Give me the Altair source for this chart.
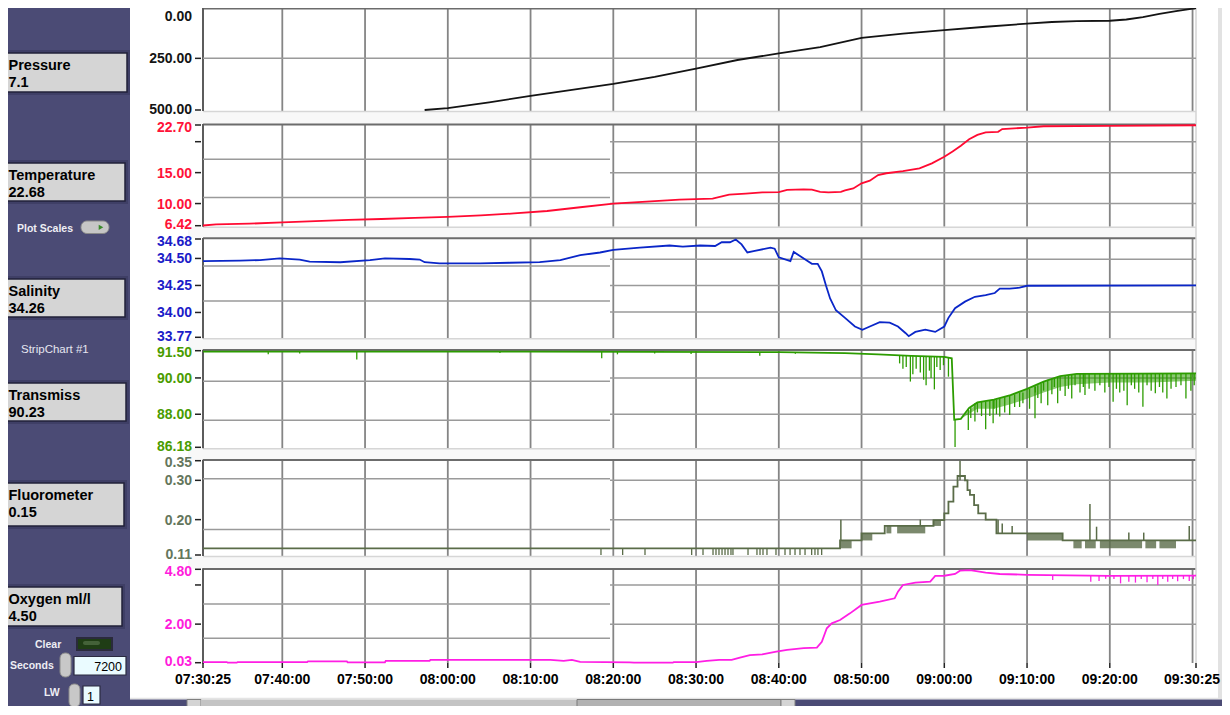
import altair as alt
import pandas as pd

# ---------------- time axis: minutes after 07:30:00 ----------------
T_START = 25 / 60
T_END = 120 + 25 / 60
grid_minutes = [10, 20, 30, 40, 50, 60, 70, 80, 90, 100, 110, 120]
xlabel_minutes = [T_START, 10, 20, 30, 40, 50, 60, 70, 80, 90, 100, 110, T_END]
xlabel_text = ["07:30:25", "07:40:00", "07:50:00", "08:00:00", "08:10:00", "08:20:00", "08:30:00",
               "08:40:00", "08:50:00", "09:00:00", "09:10:00", "09:20:00", "09:30:25"]
SPLIT = 49.6  # older strip-chart grid segment ends here

# ---------------- Pressure ----------------
press_t = [27.2, 30, 35, 40, 45, 50, 55, 60, 65, 70, 75, 80, 85, 90, 95, 100, 103, 106, 110, 112, 114, 116, 118, T_END]
press_v = [500, 491, 463, 432, 403, 374, 340, 300, 258, 226, 196, 151, 130, 113, 97, 82, 74, 70, 68, 62, 50, 35, 21, 7.1]
press_ticks = [0, 250, 500]
press_labels = ["0.00", "250.00", "500.00"]
press_gl = [250]
press_gr = [250]

# ---------------- Temperature ----------------
temp_t = [T_START, 2, 6, 10, 14, 18, 22, 26, 30, 34, 38, 42, 46, 50, 54, 58, 62, 64, 66, 68, 70, 71, 73, 74,
          75, 76, 77.5, 78, 79, 80, 81, 82, 83, 85, 87, 88.5, 90, 91, 92, 93, 94, 95, 96.5, 97, 100, 102, 110, T_END]
temp_v = [6.45, 6.62, 6.75, 6.95, 7.15, 7.35, 7.5, 7.7, 7.85, 8.1, 8.4, 8.8, 9.4, 10.0, 10.3, 10.65, 10.8, 11.45,
          11.6, 11.8, 11.85, 12.2, 12.3, 12.25, 11.9, 11.8, 11.9, 12.14, 12.45, 13.27, 13.7, 14.6, 14.9, 15.26,
          15.7, 16.5, 17.57, 18.4, 19.35, 20.4, 21.1, 21.5, 21.6, 22.05, 22.27, 22.5, 22.55, 22.66]
temp_ticks = [22.70, 20, 15, 10, 6.42]
temp_labels = ["22.70", "", "15.00", "10.00", "6.42"]
temp_gl = [17.15, 10.96]
temp_gr = [20, 15, 10]

# ---------------- Salinity ----------------
sal_t = [T_START, 4.9, 7.3, 9.7, 12.1, 13.3, 17.0, 20.6, 22.4, 25.4, 26.6, 27.2, 29.0, 33.9, 37.5, 41.1, 43.6,
         46.0, 48.4, 50.0, 53.2, 56.8, 58.4, 60.5, 62.3, 63.1, 64.1, 64.8, 65.5, 66.2, 67.1, 69.0, 69.5, 70.0,
         71.4, 71.8, 72.6, 73.2, 74.0, 74.7, 75.2, 75.7, 76.2, 76.9, 78.0, 79.2, 80.1, 81.0, 82.2, 83.4, 84.4,
         85.3, 85.7, 86.5, 87.7, 88.9, 90.0, 90.5, 91.3, 92.5, 93.7, 95.0, 96.1, 96.7, 97.9, 99.1, 100.0, T_END]
sal_v = [34.475, 34.48, 34.485, 34.50, 34.49, 34.47, 34.465, 34.485, 34.50, 34.495, 34.49, 34.465, 34.455,
         34.455, 34.46, 34.465, 34.485, 34.53, 34.555, 34.58, 34.60, 34.62, 34.61, 34.62, 34.615, 34.65, 34.65,
         34.675, 34.63, 34.555, 34.57, 34.60, 34.59, 34.51, 34.475, 34.56, 34.52, 34.49, 34.45, 34.45, 34.38,
         34.25, 34.13, 34.02, 33.95, 33.87, 33.84, 33.87, 33.91, 33.905, 33.87, 33.81, 33.78, 33.82, 33.84,
         33.82, 33.87, 33.95, 34.04, 34.10, 34.145, 34.16, 34.18, 34.22, 34.22, 34.23, 34.247, 34.25]
sal_ticks = [34.68, 34.50, 34.25, 34.00, 33.77]
sal_labels = ["34.68", "34.50", "34.25", "34.00", "33.77"]
sal_gl = [34.43, 34.106]
sal_gr = [34.492, 34.25, 34.004]

# ---------------- Transmissometer ----------------
tr_t = [T_START, 40, 70, 78, 82, 86, 90, 90.9, 91.2, 92.0, 93.0, 94.0, 96.0, 98.0, 100.0, 102.0, 104.0, 106.0, T_END]
tr_v = [91.45, 91.45, 91.42, 91.37, 91.30, 91.22, 91.16, 91.08, 87.70, 87.75, 88.35, 88.65, 88.80, 89.05, 89.40,
        89.80, 90.10, 90.22, 90.25]
trband_t = [92.0, 94.0, 96.0, 98.0, 100.0, 102.0, 104.0, 106.0, 110.0, 115.0, T_END]
trband_lo = [87.75, 88.3, 88.3, 88.55, 88.85, 89.2, 89.5, 89.65, 89.75, 89.75, 89.85]
trband_hi = [87.75, 88.65, 88.8, 89.05, 89.4, 89.8, 90.1, 90.22, 90.25, 90.25, 90.25]
trspk_t = [8.3, 12.1, 19.0, 36.3, 48.6, 50.5, 55.0, 59.4, 67.7, 72.0,
           84.6, 85.0, 85.4, 85.9, 86.2, 86.6, 87.1, 87.5, 87.8, 88.2, 88.4, 88.8, 89.1, 89.5, 89.9, 90.5,
           91.3, 92.9, 93.7, 95.0, 95.5, 95.9, 96.7, 97.3, 97.9, 99.1, 100.96, 101.7, 102.5, 103.7, 104.6,
           105.4, 107.0, 108.2, 110.4, 111.2, 112.1, 113.0, 114.0, 115.5, 116.9, 118.0, 119.2,
           93.2, 94.0, 94.5, 96.0, 96.3, 98.5, 99.5, 100.3, 101.0, 101.3, 102.0, 103.0, 103.3, 104.0, 105.0,
           105.8, 106.4, 106.8, 107.5, 108.8, 109.4, 109.9, 110.8, 111.7, 112.6, 113.5, 114.5, 115.0, 116.0,
           116.4, 117.4, 118.6, 119.8, 120.2]
trspk_top = [91.45, 91.45, 91.45, 91.45, 91.45, 91.45, 91.44, 91.44, 91.43, 91.42,
             91.25, 91.24, 91.23, 91.22, 91.22, 91.21, 91.2, 91.2, 91.19, 91.19, 91.18, 91.18, 91.17, 91.17,
             91.16, 91.12,
             87.7, 88.3, 88.6, 88.7, 88.75, 88.8, 88.9, 88.95, 89.0, 89.2, 89.6, 89.7, 89.9, 90.05, 90.15,
             90.2, 90.22, 90.22, 90.25, 90.25, 90.25, 90.25, 90.25, 90.25, 90.25, 90.25, 90.25,
             88.4, 88.65, 88.7, 88.8, 88.8, 89.1, 89.2, 89.4, 89.5, 89.6, 89.8, 89.95, 90.0, 90.1, 90.15,
             90.2, 90.22, 90.22, 90.22, 90.25, 90.25, 90.25, 90.25, 90.25, 90.25, 90.25, 90.25, 90.25, 90.25,
             90.25, 90.25, 90.25, 90.25, 90.25]
trspk_bot = [91.3, 91.35, 91.02, 91.38, 91.08, 91.3, 91.35, 91.32, 91.22, 91.33,
             90.8, 90.5, 90.6, 89.8, 90.2, 90.5, 90.3, 89.9, 89.6, 90.4, 90.0, 89.37, 90.6, 90.44, 90.7, 90.07,
             86.2, 87.13, 87.6, 87.17, 87.9, 87.5, 87.87, 88.1, 87.96, 88.4, 87.78, 88.6, 88.5, 88.6, 89.0,
             88.87, 89.06, 89.3, 88.69, 89.2, 88.5, 89.4, 88.42, 89.15, 88.87, 89.5, 88.87,
             87.8, 88.1, 87.9, 88.3, 88.0, 88.4, 88.6, 88.3, 89.2, 88.9, 89.3, 89.1, 89.5, 89.3, 89.4,
             89.6, 89.2, 89.5, 89.4, 89.6, 89.2, 89.5, 89.4, 89.3, 89.6, 89.2, 89.6, 89.3, 89.5,
             89.2, 89.4, 89.6, 89.3, 89.6]
tr_ticks = [91.50, 90.00, 88.00, 86.18]
tr_labels = ["91.50", "90.00", "88.00", "86.18"]
tr_gl = [89.815, 87.67]
tr_gr = [90.0, 88.0]

# ---------------- Fluorometer ----------------
fl_t = [T_START, 77.4, 80.0, 82.8, 88.7, 90.0, 90.5, 91.1, 91.6, 92.5, 92.8, 93.1, 93.6, 94.1, 95.0, 96.3, 104.3, T_END]
fl_v = [0.127, 0.147, 0.165, 0.184, 0.199, 0.216, 0.246, 0.284, 0.311, 0.30, 0.275, 0.263, 0.237, 0.216, 0.20,
        0.165, 0.147, 0.147]
flblk_a = [77.4, 80.0, 83.0, 84.3, 88.6, 100.0, 105.6, 107.0, 108.8, 114.3, 116.0]
flblk_b = [78.8, 81.3, 83.6, 87.7, 89.6, 104.3, 106.6, 108.3, 113.9, 115.6, 118.0]
flblk_lo = [0.127, 0.147, 0.165, 0.165, 0.184, 0.147, 0.127, 0.127, 0.127, 0.127, 0.127]
flblk_hi = [0.147, 0.165, 0.184, 0.184, 0.199, 0.165, 0.147, 0.147, 0.147, 0.147, 0.147]
fldip_t = [48.51, 51.13, 53.83, 59.47, 60.84, 62.05, 62.41, 62.77, 63.14, 63.5, 63.86, 64.22, 64.46, 66.28,
           67.36, 67.73, 68.09, 68.57, 69.66, 70.75, 71.36, 71.96, 72.56, 73.17, 73.97, 74.37, 74.73, 75.18]
flup_t = [77.5, 87.1, 91.9, 96.5, 97.0, 98.2, 107.6, 108.4, 112.3, 114.1, 119.6]
flup_lo = [0.147, 0.184, 0.30, 0.165, 0.165, 0.165, 0.147, 0.147, 0.147, 0.147, 0.147]
flup_hi = [0.20, 0.20, 0.35, 0.20, 0.19, 0.184, 0.24, 0.182, 0.167, 0.167, 0.184]
fl_ticks = [0.35, 0.30, 0.20, 0.11]
fl_labels = ["0.35", "0.30", "0.20", "0.11"]
fl_gl = [0.304, 0.175]
fl_gr = [0.30, 0.20]

# ---------------- Oxygen ----------------
ox_t = [T_START, 3.3, 3.4, 4.5, 4.6, 13.0, 13.1, 17.8, 17.9, 22.4, 22.5, 27.8, 27.9, 36.0, 42.4, 44.0, 45.0,
        46.0, 52.0, 52.5, 57.2, 57.3, 60.0, 61.3, 62.8, 64.3, 65.3, 66.5, 68.0, 69.7, 71.0, 73.0, 74.6, 75.2,
        75.8, 76.4, 77.4, 78.6, 80.0, 82.2, 84.0, 84.4, 85.0, 86.5, 88.3, 88.9, 90.0, 91.3, 91.9, 93.1, 95.0,
        96.7, 100.0, 110.0, T_END]
ox_v = [0.06, 0.06, 0.03, 0.03, 0.06, 0.06, 0.10, 0.10, 0.05, 0.05, 0.12, 0.12, 0.17, 0.17, 0.17, 0.12, 0.17,
        0.07, 0.05, 0.03, 0.03, 0.06, 0.06, 0.12, 0.17, 0.17, 0.29, 0.42, 0.46, 0.59, 0.68, 0.77, 0.80, 1.10,
        1.79, 2.04, 2.21, 2.55, 2.98, 3.15, 3.32, 3.66, 4.00, 4.12, 4.17, 4.46, 4.47, 4.56, 4.73, 4.76, 4.63,
        4.56, 4.52, 4.46, 4.48]
oxdip_t = [103.1, 107.7, 108.7, 109.5, 110.5, 111.3, 112.3, 113.1, 113.8, 114.5, 115.2, 115.8, 116.4, 117.0,
           117.6, 118.2, 118.9, 119.6, 120.1]
oxdip_top = [4.49, 4.47, 4.47, 4.47, 4.46, 4.46, 4.46, 4.46, 4.46, 4.46, 4.46, 4.46, 4.46, 4.46, 4.46, 4.46,
             4.46, 4.46, 4.47]
oxdip_bot = [4.25, 4.17, 4.2, 4.32, 4.3, 4.08, 4.17, 4.12, 4.3, 4.14, 4.3, 4.0, 4.3, 4.17, 4.3, 4.19, 4.3,
             4.2, 4.3]
ox_ticks = [4.80, 4.0, 2.00, 0.03]
ox_labels = ["4.80", "", "2.00", "0.03"]
ox_gl = [3.03, 1.276]
ox_gr = [4.0, 2.0]

# ---------------- layout helpers ----------------
OX = OY = 8
W, H = 1214, 698
FONT = "Liberation Sans"
SLATE = "#4b4b75"


def cx(v):
    return v - OX


def cy(v):
    return v - OY


one = pd.DataFrame({"k": [0]})

XS = alt.Scale(domain=[T_START, T_END], range=[cx(203), cx(1196)], nice=False, zero=False)


def rect(x0, y0, x1, y1, fill, stroke=None, sw=1.0, r=0, opacity=1.0):
    kw = dict(fill=fill, opacity=opacity)
    if stroke:
        kw.update(stroke=stroke, strokeWidth=sw)
    if r:
        kw["cornerRadius"] = r
    return alt.Chart(one).mark_rect(**kw).encode(
        x=alt.value(cx(x0)), x2=alt.value(cx(x1)), y=alt.value(cy(y0)), y2=alt.value(cy(y1)))


def hline(x0, x1, y, color, sw=1.0):
    return alt.Chart(one).mark_rule(color=color, strokeWidth=sw).encode(
        x=alt.value(cx(x0)), x2=alt.value(cx(x1)), y=alt.value(cy(y)))


def vline(x, y0, y1, color, sw=1.0):
    return alt.Chart(one).mark_rule(color=color, strokeWidth=sw).encode(
        x=alt.value(cx(x)), y=alt.value(cy(y0)), y2=alt.value(cy(y1)))


def text(s, x, y, size, color="#000000", weight="bold", align="left"):
    return alt.Chart(one).mark_text(text=s, font=FONT, fontSize=size, fontWeight=weight, color=color,
                                    align=align, baseline="alphabetic").encode(
        x=alt.value(cx(x)), y=alt.value(cy(y)))


panels = [
    dict(key="press", top=6.7, bot=110.0, dom=[0, 500], rev=True, line="#141414", lab="#141414",
         ticks=press_ticks, labels=press_labels, gl=press_gl, gr=press_gr),
    dict(key="temp", top=125.0, bot=225.7, dom=[6.42, 22.70], rev=False, line="#ff0a32", lab="#ff1238",
         ticks=temp_ticks, labels=temp_labels, gl=temp_gl, gr=temp_gr),
    dict(key="sal", top=239.0, bot=337.3, dom=[33.77, 34.68], rev=False, line="#0a26c8", lab="#1c1cc8",
         ticks=sal_ticks, labels=sal_labels, gl=sal_gl, gr=sal_gr),
    dict(key="tr", top=350.7, bot=447.3, dom=[86.18, 91.50], rev=False, line="#2c9c00", lab="#4a9c00",
         ticks=tr_ticks, labels=tr_labels, gl=tr_gl, gr=tr_gr),
    dict(key="fl", top=460.7, bot=555.0, dom=[0.11, 0.35], rev=False, line="#5a6c48", lab="#64765c",
         ticks=fl_ticks, labels=fl_labels, gl=fl_gl, gr=fl_gr),
    dict(key="ox", top=569.3, bot=662.7, dom=[0.03, 4.80], rev=False, line="#ff1ee4", lab="#ff1cdc",
         ticks=ox_ticks, labels=ox_labels, gl=ox_gl, gr=ox_gr),
]


def yscale(p):
    if p["rev"]:
        rng = [cy(p["top"]), cy(p["bot"])]
    else:
        rng = [cy(p["bot"]), cy(p["top"])]
    return alt.Scale(domain=p["dom"], range=rng, nice=False, zero=False)


def XQ(field):
    return alt.X(field, type="quantitative", scale=XS, axis=None)


def panel_chart(p, series_t, series_v, interp="linear", extras=()):
    ys = yscale(p)

    def YQ(field):
        return alt.Y(field, type="quantitative", scale=ys, axis=None)

    gdf = pd.DataFrame({
        "v": list(p["gl"]) + list(p["gr"]),
        "a": [T_START] * len(p["gl"]) + [SPLIT] * len(p["gr"]),
        "b": [SPLIT] * len(p["gl"]) + [T_END] * len(p["gr"]),
    })
    layers = [alt.Chart(gdf).mark_rule(color="#9a9a9a", strokeWidth=1.5).encode(
        x=XQ("a"), x2="b", y=YQ("v"))]
    for ex in extras:
        layers.append(ex(YQ))
    df = pd.DataFrame({"t": series_t, "v": series_v})
    layers.append(alt.Chart(df).mark_line(color=p["line"], strokeWidth=1.8, interpolate=interp).encode(
        x=XQ("t"), y=YQ("v")))

    # y axis: ticks and labels (top label nudged down, bottom label nudged up)
    tdf = pd.DataFrame({"v": p["ticks"], "lab": p["labels"]})
    layers.append(alt.Chart(tdf).mark_rule(color="#222222", strokeWidth=1.5).encode(
        x=alt.value(cx(195)), x2=alt.value(cx(201)), y=YQ("v")))
    top_dy = 14.5 if p["key"] == "press" else 6.5
    groups = [(tdf.iloc[:1], top_dy), (tdf.iloc[1:-1], 5), (tdf.iloc[-1:], 3.5)]
    for sub, dy in groups:
        layers.append(alt.Chart(sub).mark_text(font=FONT, fontSize=14, fontWeight="bold", color=p["lab"],
                                               align="right", baseline="alphabetic", dy=dy).encode(
            x=alt.value(cx(192)), y=YQ("v"), text="lab:N"))
    return alt.layer(*layers)


# extras ---------------------------------------------------------------
def tr_band(YQ):
    d = pd.DataFrame({"t": trband_t, "lo": trband_lo, "hi": trband_hi})
    return alt.Chart(d).mark_area(color="#2c9c00", opacity=0.55).encode(x=XQ("t"), y=YQ("lo"), y2="hi")


def tr_spikes(YQ):
    d = pd.DataFrame({"t": trspk_t, "a": trspk_top, "b": trspk_bot})
    return alt.Chart(d).mark_rule(color="#2c9c00", strokeWidth=1.3).encode(x=XQ("t"), y=YQ("a"), y2="b")


def fl_blocks(YQ):
    d = pd.DataFrame({"a": flblk_a, "b": flblk_b, "lo": flblk_lo, "hi": flblk_hi})
    return alt.Chart(d).mark_rect(color="#5a6c48", opacity=0.8).encode(x=XQ("a"), x2="b", y=YQ("lo"), y2="hi")


def fl_dips(YQ):
    d = pd.DataFrame({"t": fldip_t, "a": [0.127] * len(fldip_t), "b": [0.11] * len(fldip_t)})
    return alt.Chart(d).mark_rule(color="#5a6c48", strokeWidth=1.3).encode(x=XQ("t"), y=YQ("a"), y2="b")


def fl_ups(YQ):
    d = pd.DataFrame({"t": flup_t, "a": flup_lo, "b": flup_hi})
    return alt.Chart(d).mark_rule(color="#5a6c48", strokeWidth=1.5).encode(x=XQ("t"), y=YQ("a"), y2="b")


def ox_dips(YQ):
    d = pd.DataFrame({"t": oxdip_t, "a": oxdip_top, "b": oxdip_bot})
    return alt.Chart(d).mark_rule(color="#ff1ee4", strokeWidth=1.3).encode(x=XQ("t"), y=YQ("a"), y2="b")


# ---------------- assemble ----------------
layers = []

# left control panel and bottom scroll strip
layers.append(rect(0, 0, 130, 720, SLATE))
layers.append(hline(130, 1230, 698.5, "#e4e4e4", 1.5))
layers.append(rect(130, 699.5, 187, 720, SLATE))
layers.append(rect(795, 699.5, 1230, 720, SLATE))
layers.append(rect(187, 699.5, 201, 720, "#d4d4d4", "#808080", 1))
layers.append(rect(201, 699.5, 577, 720, "#c4c4c4"))
layers.append(rect(577, 699.5, 781, 720, "#b2b2b2", "#7a7a7a", 1))
layers.append(rect(781, 699.5, 795, 720, "#d4d4d4", "#808080", 1))
layers.append(rect(1218, 0, 1230, 699, "#e2e2e2"))

# vertical grid lines across all strips
vg = pd.DataFrame({"m": grid_minutes})
layers.append(alt.Chart(vg).mark_rule(color="#858585", strokeWidth=1.8).encode(
    x=XQ("m"), y=alt.value(cy(6)), y2=alt.value(cy(663))))

# separators between strips
gaps = [(111.0, 124.5), (226.7, 238.3), (338.3, 350.0), (448.3, 460.0), (556.0, 569.0)]
for g0, g1 in gaps:
    layers.append(rect(188, g0, 1196, g1, "#f8f8f8"))
    layers.append(hline(203, 1196, g0 + 0.5, "#d6d6d6", 1.5))
    layers.append(hline(203, 1196, g1, "#6c6c6c", 2))
layers.append(hline(203, 1196, 8.8, "#6c6c6c", 1.5))
layers.append(vline(1196, 6, 663, "#d4d4d4", 1.5))
# y axis domain lines
for p in panels:
    layers.append(vline(203, max(p["top"] - 1, 8), p["bot"] + 1, "#5c5c5c", 2))

# strips
P = {p["key"]: p for p in panels}
layers.append(panel_chart(P["press"], press_t, press_v))
layers.append(panel_chart(P["temp"], temp_t, temp_v))
layers.append(panel_chart(P["sal"], sal_t, sal_v))
layers.append(panel_chart(P["tr"], tr_t, tr_v, extras=(tr_band, tr_spikes)))
layers.append(panel_chart(P["fl"], fl_t, fl_v, interp="step-after", extras=(fl_blocks, fl_dips, fl_ups)))
layers.append(panel_chart(P["ox"], ox_t, ox_v, extras=(ox_dips,)))

# time axis ticks and labels
xdf = pd.DataFrame({"m": xlabel_minutes, "lab": xlabel_text})
layers.append(alt.Chart(xdf).mark_rule(color="#222222", strokeWidth=1.5).encode(
    x=XQ("m"), y=alt.value(cy(663)), y2=alt.value(cy(668))))
layers.append(alt.Chart(xdf.iloc[:-1]).mark_text(font=FONT, fontSize=14, fontWeight="bold", color="#000000",
                                                 align="center", baseline="alphabetic").encode(
    x=XQ("m"), y=alt.value(cy(683.5)), text="lab:N"))
layers.append(alt.Chart(xdf.iloc[-1:]).mark_text(font=FONT, fontSize=14, fontWeight="bold", color="#000000",
                                                 align="center", baseline="alphabetic", dx=-4).encode(
    x=XQ("m"), y=alt.value(cy(683.5)), text="lab:N"))

# indicator boxes on the left panel
boxes = [
    ("Pressure", "7.1", 53, 92, 127),
    ("Temperature", "22.68", 163, 201, 125),
    ("Salinity", "34.26", 279, 317, 125),
    ("Transmiss", "90.23", 383, 421, 126),
    ("Fluorometer", "0.15", 483, 526, 124),
    ("Oxygen ml/l", "4.50", 587, 626, 122),
]
for title, val, y0, y1, x1 in boxes:
    layers.append(rect(0, y0 - 3, x1 + 3, y1 + 3, "#3f3f66"))
    layers.append(rect(3, y0, x1, y1, "#d5d5d5", "#22223a", 1.5))
    layers.append(text(title, 8.5, y0 + 16.5, 14.5))
    layers.append(text(val, 8.5, y0 + 33.5, 14.5))

layers.append(text("Plot Scales", 17, 232, 10.5, "#eeeef4"))
layers.append(rect(81, 221, 109, 233.5, "#c6c6c6", "#8a8a8a", 1, r=6))
layers.append(alt.Chart(one).mark_point(shape="triangle-right", filled=True, size=28, color="#3a8a2a",
                                        opacity=1).encode(x=alt.value(cx(101)), y=alt.value(cy(227.3))))
layers.append(text("StripChart #1", 21, 353, 11.5, "#e6e6f0", weight="normal"))
layers.append(text("Clear", 35, 648, 10.5, "#eeeef4"))
layers.append(rect(76, 637, 113, 651, "#2a2a3c"))
layers.append(rect(78, 639, 111, 649, "#1f3d15"))
layers.append(rect(83, 641, 100, 645, "#4d6b42", r=2, opacity=0.8))
layers.append(text("Seconds", 10, 669, 10.5, "#eeeef4"))
layers.append(rect(60, 653, 71, 677, "#c8c8c8", "#8a8a8a", 1, r=5))
layers.append(rect(74, 656.5, 126, 675, "#eafbff", "#2a2a40", 1.2))
layers.append(text("7200", 122, 671, 12.5, "#000000", weight="normal", align="right"))
layers.append(text("LW", 44, 696, 10.5, "#eeeef4"))
layers.append(rect(69, 684, 80, 707, "#c8c8c8", "#8a8a8a", 1, r=5))
layers.append(rect(83, 686, 100, 704, "#eafbff", "#2a2a40", 1.2))
layers.append(text("1", 87, 701, 12.5, "#000000", weight="normal"))

chart = alt.layer(*layers).resolve_scale(y="independent").properties(
    width=W, height=H, autosize=alt.AutoSizeParams(type="none"), padding=0, background="white"
).configure_view(stroke=None)

chart.save("out.html", embed_options={"renderer": "svg", "actions": False})
